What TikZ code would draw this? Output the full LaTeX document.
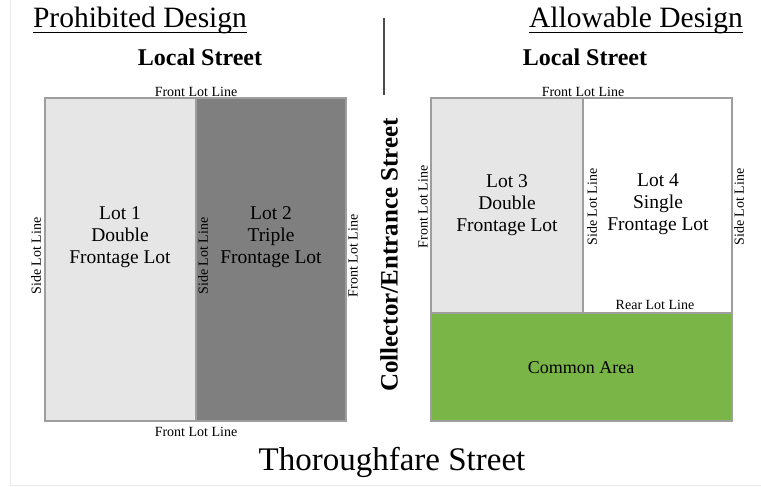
\documentclass[tikz,border=0pt]{standalone}
\usepackage{fontspec}
\setmainfont{Liberation Serif}
\begin{document}
\begin{tikzpicture}[x=1pt,y=-1pt,
  edge/.style={draw=black!38,line width=1.3pt},
  lotbox/.style={edge,anchor=north west,inner sep=0pt,outer sep=0pt},
  small/.style={font=\fontsize{14}{16}\selectfont,inner sep=0pt},
  lottext/.style={font=\fontsize{19.5}{22}\selectfont,align=center,inner sep=0pt},
  title/.style={font=\fontsize{29.5}{32}\selectfont,inner sep=0pt},
  street/.style={font=\fontsize{24}{26}\selectfont\bfseries,inner sep=0pt}]
\definecolor{lightlot}{HTML}{E6E6E6}
\definecolor{darklot}{HTML}{7F7F7F}
\definecolor{commongreen}{HTML}{7AB547}
\useasboundingbox (0,0) rectangle (761,487);
\fill[white] (0,0) rectangle (761,487);
% faint frame
\coordinate (ftl) at (10,0);
\coordinate (fbl) at (10,485);
\coordinate (fbr) at (761,485);
\draw[black!8,line width=1pt] (ftl) -- (fbl) -- (fbr);
% titles
\node[title,anchor=base] (t1) at (140,28) {Prohibited Design};
\draw[line width=0.9pt] (t1.base west) ++(0,4) coordinate (u1a) -- (t1.base east |- u1a);
\node[title,anchor=base] (t2) at (636,28) {Allowable Design};
\draw[line width=0.9pt] (t2.base west) ++(0,4) coordinate (u2a) -- (t2.base east |- u2a);
\coordinate (dtop) at (384,18);
\coordinate (dbot) at (384,95);
\draw[black!70,line width=2pt] (dtop) -- (dbot);
\node[street,anchor=base] (ls1) at (200,66) {Local Street};
\node[street,anchor=base] (ls2) at (585,66) {Local Street};
% left panel
\node[lotbox,fill=lightlot,minimum width=151pt,minimum height=323pt] (lot1) at (45,98) {};
\node[lotbox,fill=darklot,minimum width=150pt,minimum height=323pt] (lot2) at (196,98) {};
\node[lottext] (l1t) at (120,237) {Lot 1\\Double\\Frontage Lot};
\node[lottext] (l2t) at (271,237) {Lot 2\\Triple\\Frontage Lot};
\node[small,anchor=base] (f1) at (196,96) {Front Lot Line};
\node[small,anchor=base] (f2) at (196,436) {Front Lot Line};
\node[small,rotate=90] (s1) at (36,256) {Side Lot Line};
\node[small,rotate=90] (s2) at (203,256) {Side Lot Line};
\node[small,rotate=90] (f3) at (353,256) {Front Lot Line};
% middle street
\node[street,font=\fontsize{25}{27}\selectfont\bfseries,rotate=90] (coll) at (389,255) {Collector/Entrance Street};
% right panel
\node[lotbox,fill=lightlot,minimum width=152pt,minimum height=215pt] (lot3) at (431,98) {};
\node[lotbox,fill=white,minimum width=149pt,minimum height=215pt] (lot4) at (583,98) {};
\node[lotbox,fill=commongreen,minimum width=301pt,minimum height=108pt] (common) at (431,313) {};
\node[lottext] (l3t) at (507,205) {Lot 3\\Double\\Frontage Lot};
\node[lottext] (l4t) at (658,204) {Lot 4\\Single\\Frontage Lot};
\node[lottext,font=\fontsize{18}{22}\selectfont] (cat) at (581,368) {Common Area};
\node[small,anchor=base] (f4) at (583,96) {Front Lot Line};
\node[small,rotate=90] (f5) at (423,207) {Front Lot Line};
\node[small,rotate=90] (s3) at (592,207) {Side Lot Line};
\node[small,rotate=90] (s4) at (739,207) {Side Lot Line};
\node[small,anchor=base] (rl) at (655,309) {Rear Lot Line};
% bottom street
\node[font=\fontsize{33}{36}\selectfont,anchor=base,inner sep=0pt] (thor) at (392,470) {Thoroughfare Street};
\end{tikzpicture}
\end{document}
